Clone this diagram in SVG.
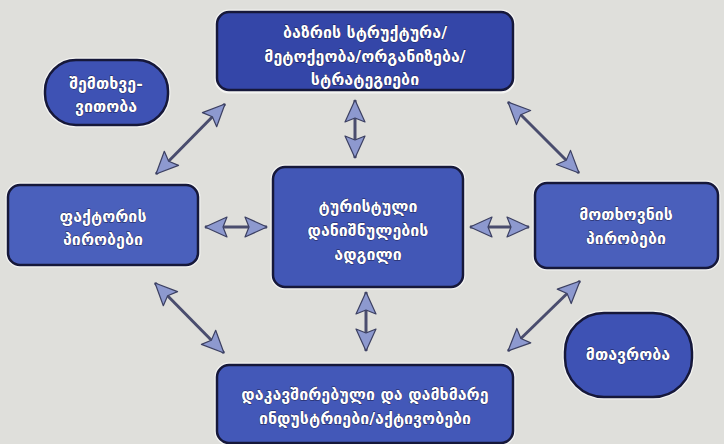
<svg xmlns="http://www.w3.org/2000/svg" width="724" height="444" viewBox="0 0 724 444">
<defs>
<style>
.box{fill:#3e52b4;stroke:#16183a;stroke-width:2.5}
.glow{fill:none;stroke:#f4f4f2;stroke-width:3}
.t{font-family:"DejaVu Sans","Noto Sans",sans-serif;font-size:16px;font-weight:bold;fill:#ffffff;text-anchor:middle;stroke:#1c2050;stroke-width:0.8;paint-order:stroke}
.c{stroke:#4a4d6e;stroke-width:3;fill:none;marker-start:url(#ah);marker-end:url(#ah)}
</style>
<marker id="ah" markerUnits="userSpaceOnUse" markerWidth="26" markerHeight="24" viewBox="0 0 26 24" refX="24" refY="12" orient="auto-start-reverse">
<path d="M2,2 L24,12 L2,22 L6,12 Z" fill="#8d99cf" stroke="#3c4062" stroke-width="1.2" stroke-linejoin="round"/>
</marker>
</defs>
<rect width="724" height="444" fill="#dfdfdb"/>
<g id="connectors">
<line class="c" x1="156" y1="174" x2="225" y2="104"/>
<line class="c" x1="508" y1="102" x2="579" y2="173"/>
<line class="c" x1="155" y1="283" x2="224" y2="353"/>
<line class="c" x1="580" y1="281" x2="508" y2="351"/>
<line class="c" x1="355" y1="100" x2="355" y2="158"/>
<line class="c" x1="366" y1="292" x2="366" y2="351"/>
<line class="c" x1="205" y1="227" x2="267" y2="227"/>
<line class="c" x1="470" y1="227" x2="529" y2="227"/>
</g>
<g id="n-top">
<rect class="glow" x="216" y="11" width="298" height="81" rx="13"/>
<rect class="box" x="217" y="12" width="296" height="78" rx="12" style="fill:#3446a8"/>
<text class="t" x="365" y="38">ბაზრის სტრუქტურა/</text>
<text class="t" x="365" y="62">მეტოქეობა/ორგანიზება/</text>
<text class="t" x="365" y="85">სტრატეგიები</text>
</g>
<g id="n-chance">
<rect class="glow" x="44" y="59" width="125" height="67" rx="32"/>
<rect class="box" x="45" y="60" width="123" height="65" rx="31"/>
<text class="t" x="106" y="89">შემთხვე-</text>
<text class="t" x="106" y="112">ვითობა</text>
</g>
<g id="n-left">
<rect class="glow" x="7" y="184" width="192" height="82" rx="13"/>
<rect class="box" x="8" y="185" width="190" height="80" rx="12" style="fill:#4a60bc"/>
<text class="t" x="103" y="222">ფაქტორის</text>
<text class="t" x="103" y="245">პირობები</text>
</g>
<g id="n-center">
<rect class="glow" x="272" y="166" width="192" height="122" rx="13"/>
<rect class="box" x="273" y="167" width="190" height="120" rx="12" style="fill:#4257b6"/>
<text class="t" x="368" y="212">ტურისტული</text>
<text class="t" x="368" y="236">დანიშნულების</text>
<text class="t" x="368" y="260">ადგილი</text>
</g>
<g id="n-right">
<rect class="glow" x="534" y="182" width="185" height="87" rx="13"/>
<rect class="box" x="535" y="183" width="183" height="85" rx="12" style="fill:#4a5fbb"/>
<text class="t" x="626" y="220">მოთხოვნის</text>
<text class="t" x="626" y="244">პირობები</text>
</g>
<g id="n-gov">
<rect class="glow" x="564" y="312" width="129" height="86" rx="40"/>
<rect class="box" x="565" y="313" width="127" height="84" rx="39"/>
<text class="t" x="628" y="360">მთავრობა</text>
</g>
<g id="n-bottom">
<rect class="glow" x="216" y="364" width="298" height="80" rx="13"/>
<rect class="box" x="217" y="365" width="296" height="78" rx="12" style="fill:#4358b8"/>
<text class="t" x="365" y="400">დაკავშირებული და დამხმარე</text>
<text class="t" x="365" y="424">ინდუსტრიები/აქტივობები</text>
</g>
</svg>
